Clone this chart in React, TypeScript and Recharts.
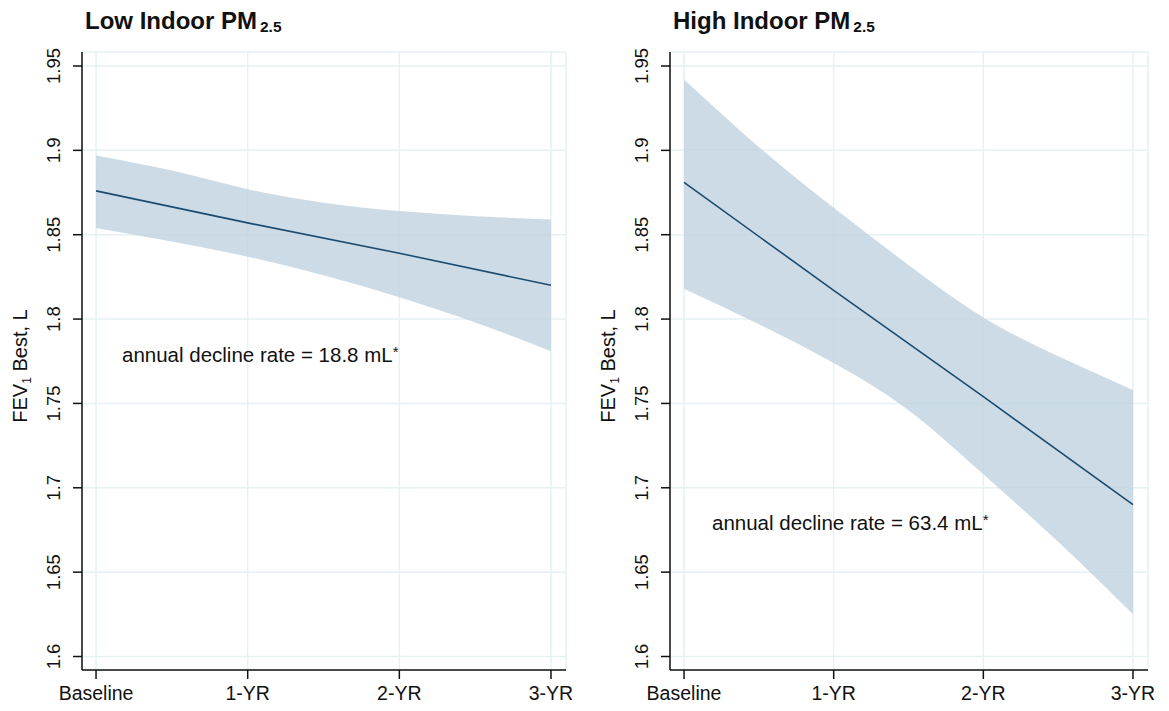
import {
  ComposedChart,
  Area,
  Line,
  XAxis,
  YAxis,
  CartesianGrid,
} from "recharts";

const years = [0, 0.5, 1, 1.5, 2, 2.5, 3];
const xTicks = [0, 1, 2, 3];
const xTickLabels = ["Baseline", "1-YR", "2-YR", "3-YR"];
const yTicks = [1.6, 1.65, 1.7, 1.75, 1.8, 1.85, 1.9, 1.95];

// Low indoor PM2.5
const lowFit = [1.876, null, 1.857, null, 1.839, null, 1.82];
const lowUpper = [1.897, 1.888, 1.877, 1.869, 1.864, 1.861, 1.859];
const lowLower = [1.854, 1.846, 1.837, 1.826, 1.813, 1.798, 1.781];

// High indoor PM2.5
const highFit = [1.881, null, 1.817, null, 1.754, null, 1.69];
const highUpper = [1.942, 1.902, 1.866, 1.832, 1.801, 1.778, 1.758];
const highLower = [1.818, 1.797, 1.774, 1.746, 1.708, 1.668, 1.625];

const lowRows = years.map((year, i) => ({
  year,
  fit: lowFit[i],
  band: [lowLower[i], lowUpper[i]],
}));
const highRows = years.map((year, i) => ({
  year,
  fit: highFit[i],
  band: [highLower[i], highUpper[i]],
}));

const FONT = "'Liberation Sans', Arial, Helvetica, sans-serif";
const BAND = "#c3d5e1";
const LINE = "#1b4b70";
const GRID = "#e6f1f3";

function XTick(props: any) {
  const { x, y, payload } = props;
  return (
    <text
      x={x}
      y={y + 19}
      textAnchor="middle"
      fontSize={19.5}
      fontFamily={FONT}
      fill="#111"
    >
      {xTickLabels[payload.value]}
    </text>
  );
}

function YTick(props: any) {
  const { y, payload, labelX } = props;
  return (
    <text
      x={labelX}
      y={y}
      textAnchor="middle"
      transform={`rotate(-90, ${labelX}, ${y})`}
      fontSize={18.5}
      fontFamily={FONT}
      fill="#111"
    >
      {String(payload.value)}
    </text>
  );
}

function Panel({
  rows,
  width,
  axisWidth,
  right,
}: {
  rows: any[];
  width: number;
  axisWidth: number;
  right: number;
}) {
  const pad = 14 / ((width - axisWidth - right) / 3.2);
  return (
    <ComposedChart
      width={width}
      height={711}
      data={rows}
      margin={{ top: 52, right, left: 0, bottom: 0 }}
    >
      <CartesianGrid stroke={GRID} strokeWidth={1.5} />
      <XAxis
        type="number"
        dataKey="year"
        domain={[-pad, 3 + pad * 1.07]}
        ticks={xTicks}
        height={41}
        interval={0}
        stroke="#111"
        strokeWidth={1.5}
        tickSize={9}
        tick={<XTick />}
      />
      <YAxis
        type="number"
        domain={[1.592, 1.9583]}
        ticks={yTicks}
        allowDataOverflow
        width={axisWidth}
        interval={0}
        stroke="#111"
        strokeWidth={1.5}
        tickSize={9}
        tick={<YTick labelX={axisWidth - 22} />}
      />
      <Area
        dataKey="band"
        type="natural"
        fill={BAND}
        fillOpacity={0.85}
        stroke="none"
        isAnimationActive={false}
      />
      <Line
        dataKey="fit"
        type="linear"
        stroke={LINE}
        strokeWidth={1.6}
        dot={false}
        connectNulls
        isAnimationActive={false}
      />
    </ComposedChart>
  );
}

function Overlay() {
  const labelY = 366;
  const yLabel = (x: number) => (
    <text
      x={x}
      y={labelY}
      textAnchor="middle"
      transform={`rotate(-90, ${x}, ${labelY})`}
      fontSize={20}
      fontFamily={FONT}
      fill="#111"
    >
      FEV
      <tspan fontSize={12} dy={4}>
        1
      </tspan>
      <tspan dy={-4}> Best, L</tspan>
    </text>
  );
  return (
    <svg
      width={1169}
      height={711}
      style={{ position: "absolute", left: 0, top: 0, pointerEvents: "none" }}
    >
      <text x={85} y={29} fontSize={24} fontWeight="bold" fontFamily={FONT} fill="#111">
        Low Indoor PM
        <tspan fontSize={15.5} dx={3} dy={3}>
          2.5
        </tspan>
      </text>
      <text x={673} y={29} fontSize={24} fontWeight="bold" fontFamily={FONT} fill="#111">
        High Indoor PM
        <tspan fontSize={15.5} dx={3} dy={3}>
          2.5
        </tspan>
      </text>
      {yLabel(27)}
      {yLabel(615)}
      <text x={122} y={362} fontSize={20.5} fontFamily={FONT} fill="#111">
        annual decline rate = 18.8 mL
        <tspan fontSize={15} dy={-5}>
          *
        </tspan>
      </text>
      <text x={712} y={530} fontSize={20.5} fontFamily={FONT} fill="#111">
        annual decline rate = 63.4 mL
        <tspan fontSize={15} dy={-5}>
          *
        </tspan>
      </text>
    </svg>
  );
}

export default function App() {
  return (
    <div
      style={{
        position: "absolute",
        left: 0,
        top: 0,
        width: 1169,
        height: 711,
        background: "#fff",
        fontFamily: FONT,
      }}
    >
      <div style={{ position: "absolute", left: 0, top: 0 }}>
        <Panel rows={lowRows} width={590} axisWidth={82} right={24} />
      </div>
      <div style={{ position: "absolute", left: 588, top: 0 }}>
        <Panel rows={highRows} width={581} axisWidth={82} right={21} />
      </div>
      <Overlay />
    </div>
  );
}
